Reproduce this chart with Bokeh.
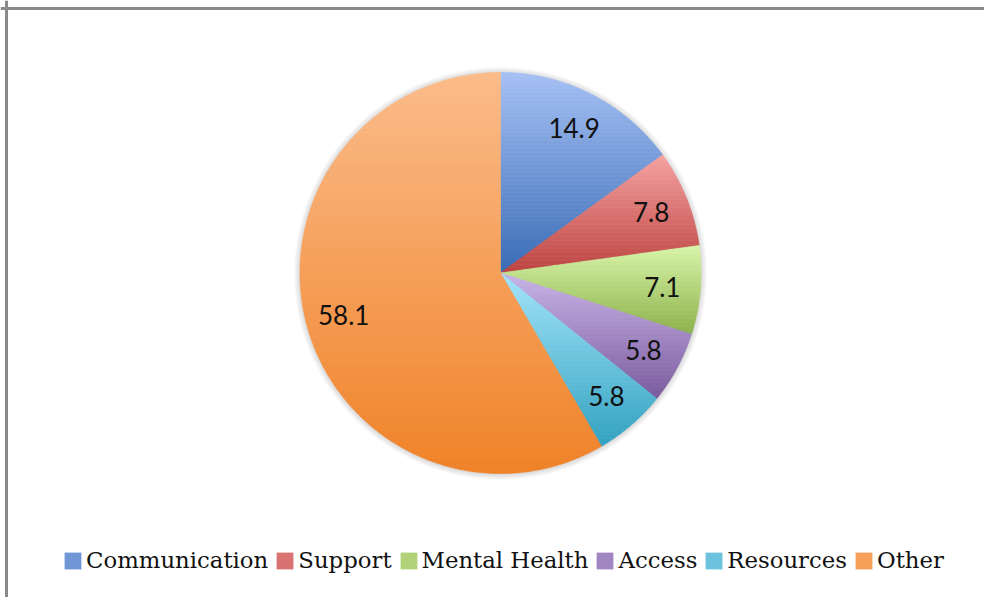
import numpy as np
from bokeh.plotting import figure
from bokeh.models import Range1d, Legend, LegendItem, Span, ColumnDataSource
from bokeh.core.properties import value
from bokeh.embed import file_html
from bokeh.resources import INLINE

# ---- data ----
categories = ["Communication", "Support", "Mental Health", "Access", "Resources", "Other"]
values = [14.9, 7.8, 7.1, 5.8, 5.8, 58.1]
value_labels = ["14.9", "7.8", "7.1", "5.8", "5.8", "58.1"]

# ---- styles ----
top_colors = ["#a6c1f5", "#f5a3a2", "#d8f5a9", "#c8b4e6", "#a3e4fa", "#fbbc8a"]
bottom_colors = ["#3a6cb6", "#bc4340", "#8cb04a", "#7a5a9e", "#33a2c0", "#f08228"]

W, H = 984, 597
CX, CY, R = 500.0, 324.5, 200.5
LABEL_R = 0.81 * R


def hex2rgb(h):
    h = h.lstrip("#")
    return np.array([int(h[i:i + 2], 16) for i in (0, 2, 4)], dtype=float)


def rgb2hex(c):
    c = np.clip(np.round(c), 0, 255).astype(int)
    return "#%02x%02x%02x" % tuple(c)


def clip(poly, y, keep_above):
    out = []
    n = len(poly)
    for j in range(n):
        P = poly[j]
        Q = poly[(j + 1) % n]
        inP = P[1] >= y if keep_above else P[1] <= y
        inQ = Q[1] >= y if keep_above else Q[1] <= y
        if inP:
            out.append(P)
        if inP != inQ:
            t = (y - P[1]) / (Q[1] - P[1])
            out.append((P[0] + t * (Q[0] - P[0]), y))
    return out


p = figure(width=W, height=H, x_range=Range1d(0, W), y_range=Range1d(0, H),
           output_backend="svg", toolbar_location=None, min_border=0,
           x_axis_location=None, y_axis_location=None)
p.grid.visible = False
p.outline_line_color = None
p.background_fill_color = "white"
p.border_fill_color = "white"

# soft shadow around the pie
for k in range(1, 7):
    p.circle(x=[CX], y=[CY - 0.5], radius=R + k, fill_color="black",
             fill_alpha=0.025, line_color=None)

total = float(sum(values))
cum = np.concatenate([[0.0], np.cumsum(values)])

pxs, pys, pcols = [], [], []
lx, ly = [], []
for i, v in enumerate(values):
    t0 = cum[i] / total * 2 * np.pi
    t1 = cum[i + 1] / total * 2 * np.pi
    n = max(3, int(np.degrees(t1 - t0)) + 2)
    ts = np.linspace(t0, t1, n)
    xs = CX + R * np.sin(ts)
    ys = CY + R * np.cos(ts)
    poly = [(CX, CY)] + list(zip(xs, ys))
    yall = [q[1] for q in poly]
    ymin, ymax = min(yall), max(yall)
    nb = max(10, int((ymax - ymin) / 4))
    edges = np.linspace(ymin, ymax, nb + 1)
    ctop, cbot = hex2rgb(top_colors[i]), hex2rgb(bottom_colors[i])
    for b in range(nb):
        band = clip(clip(poly, edges[b], True), edges[b + 1], False)
        if len(band) < 3:
            continue
        tt = ((edges[b] + edges[b + 1]) / 2 - ymin) / (ymax - ymin)
        pxs.append([q[0] for q in band])
        pys.append([q[1] for q in band])
        pcols.append(rgb2hex(cbot + (ctop - cbot) * tt))
    tm = (cum[i] + v / 2.0) / total * 2 * np.pi
    lx.append(CX + LABEL_R * np.sin(tm))
    ly.append(CY + LABEL_R * np.cos(tm))

src = ColumnDataSource(dict(xs=pxs, ys=pys, color=pcols))
p.patches("xs", "ys", source=src, fill_color="color", line_color="color", line_width=0.7)

lsrc = ColumnDataSource(dict(x=lx, y=ly, text=value_labels))
p.text("x", "y", text="text", source=lsrc, text_align="center", text_baseline="middle",
       text_font=value("Lato"), text_font_size="26px", text_color="#111111")

# legend (proxy renderers with no visible geometry)
items = []
for i, c in enumerate(categories):
    mid = rgb2hex((hex2rgb(top_colors[i]) + hex2rgb(bottom_colors[i])) / 2)
    r = p.quad(left=[np.nan], right=[np.nan], top=[np.nan], bottom=[np.nan],
               fill_color=mid, line_color=None)
    items.append(LegendItem(label=c, renderers=[r]))

legend = Legend(items=items, orientation="horizontal", location=(62, 24),
                glyph_width=21, glyph_height=21, label_standoff=3, spacing=6,
                padding=0, margin=0, border_line_color=None, background_fill_alpha=0,
                label_text_font="DejaVu Serif", label_text_font_size="22.8px",
                label_text_color="#111111")
p.add_layout(legend)

# chart border (top and left edges)
p.add_layout(Span(location=6, dimension="height", line_color="#8a8a8a", line_width=3))
p.add_layout(Span(location=H - 8, dimension="width", line_color="#8a8a8a", line_width=3))

open("out.html", "w").write(file_html(p, INLINE))
